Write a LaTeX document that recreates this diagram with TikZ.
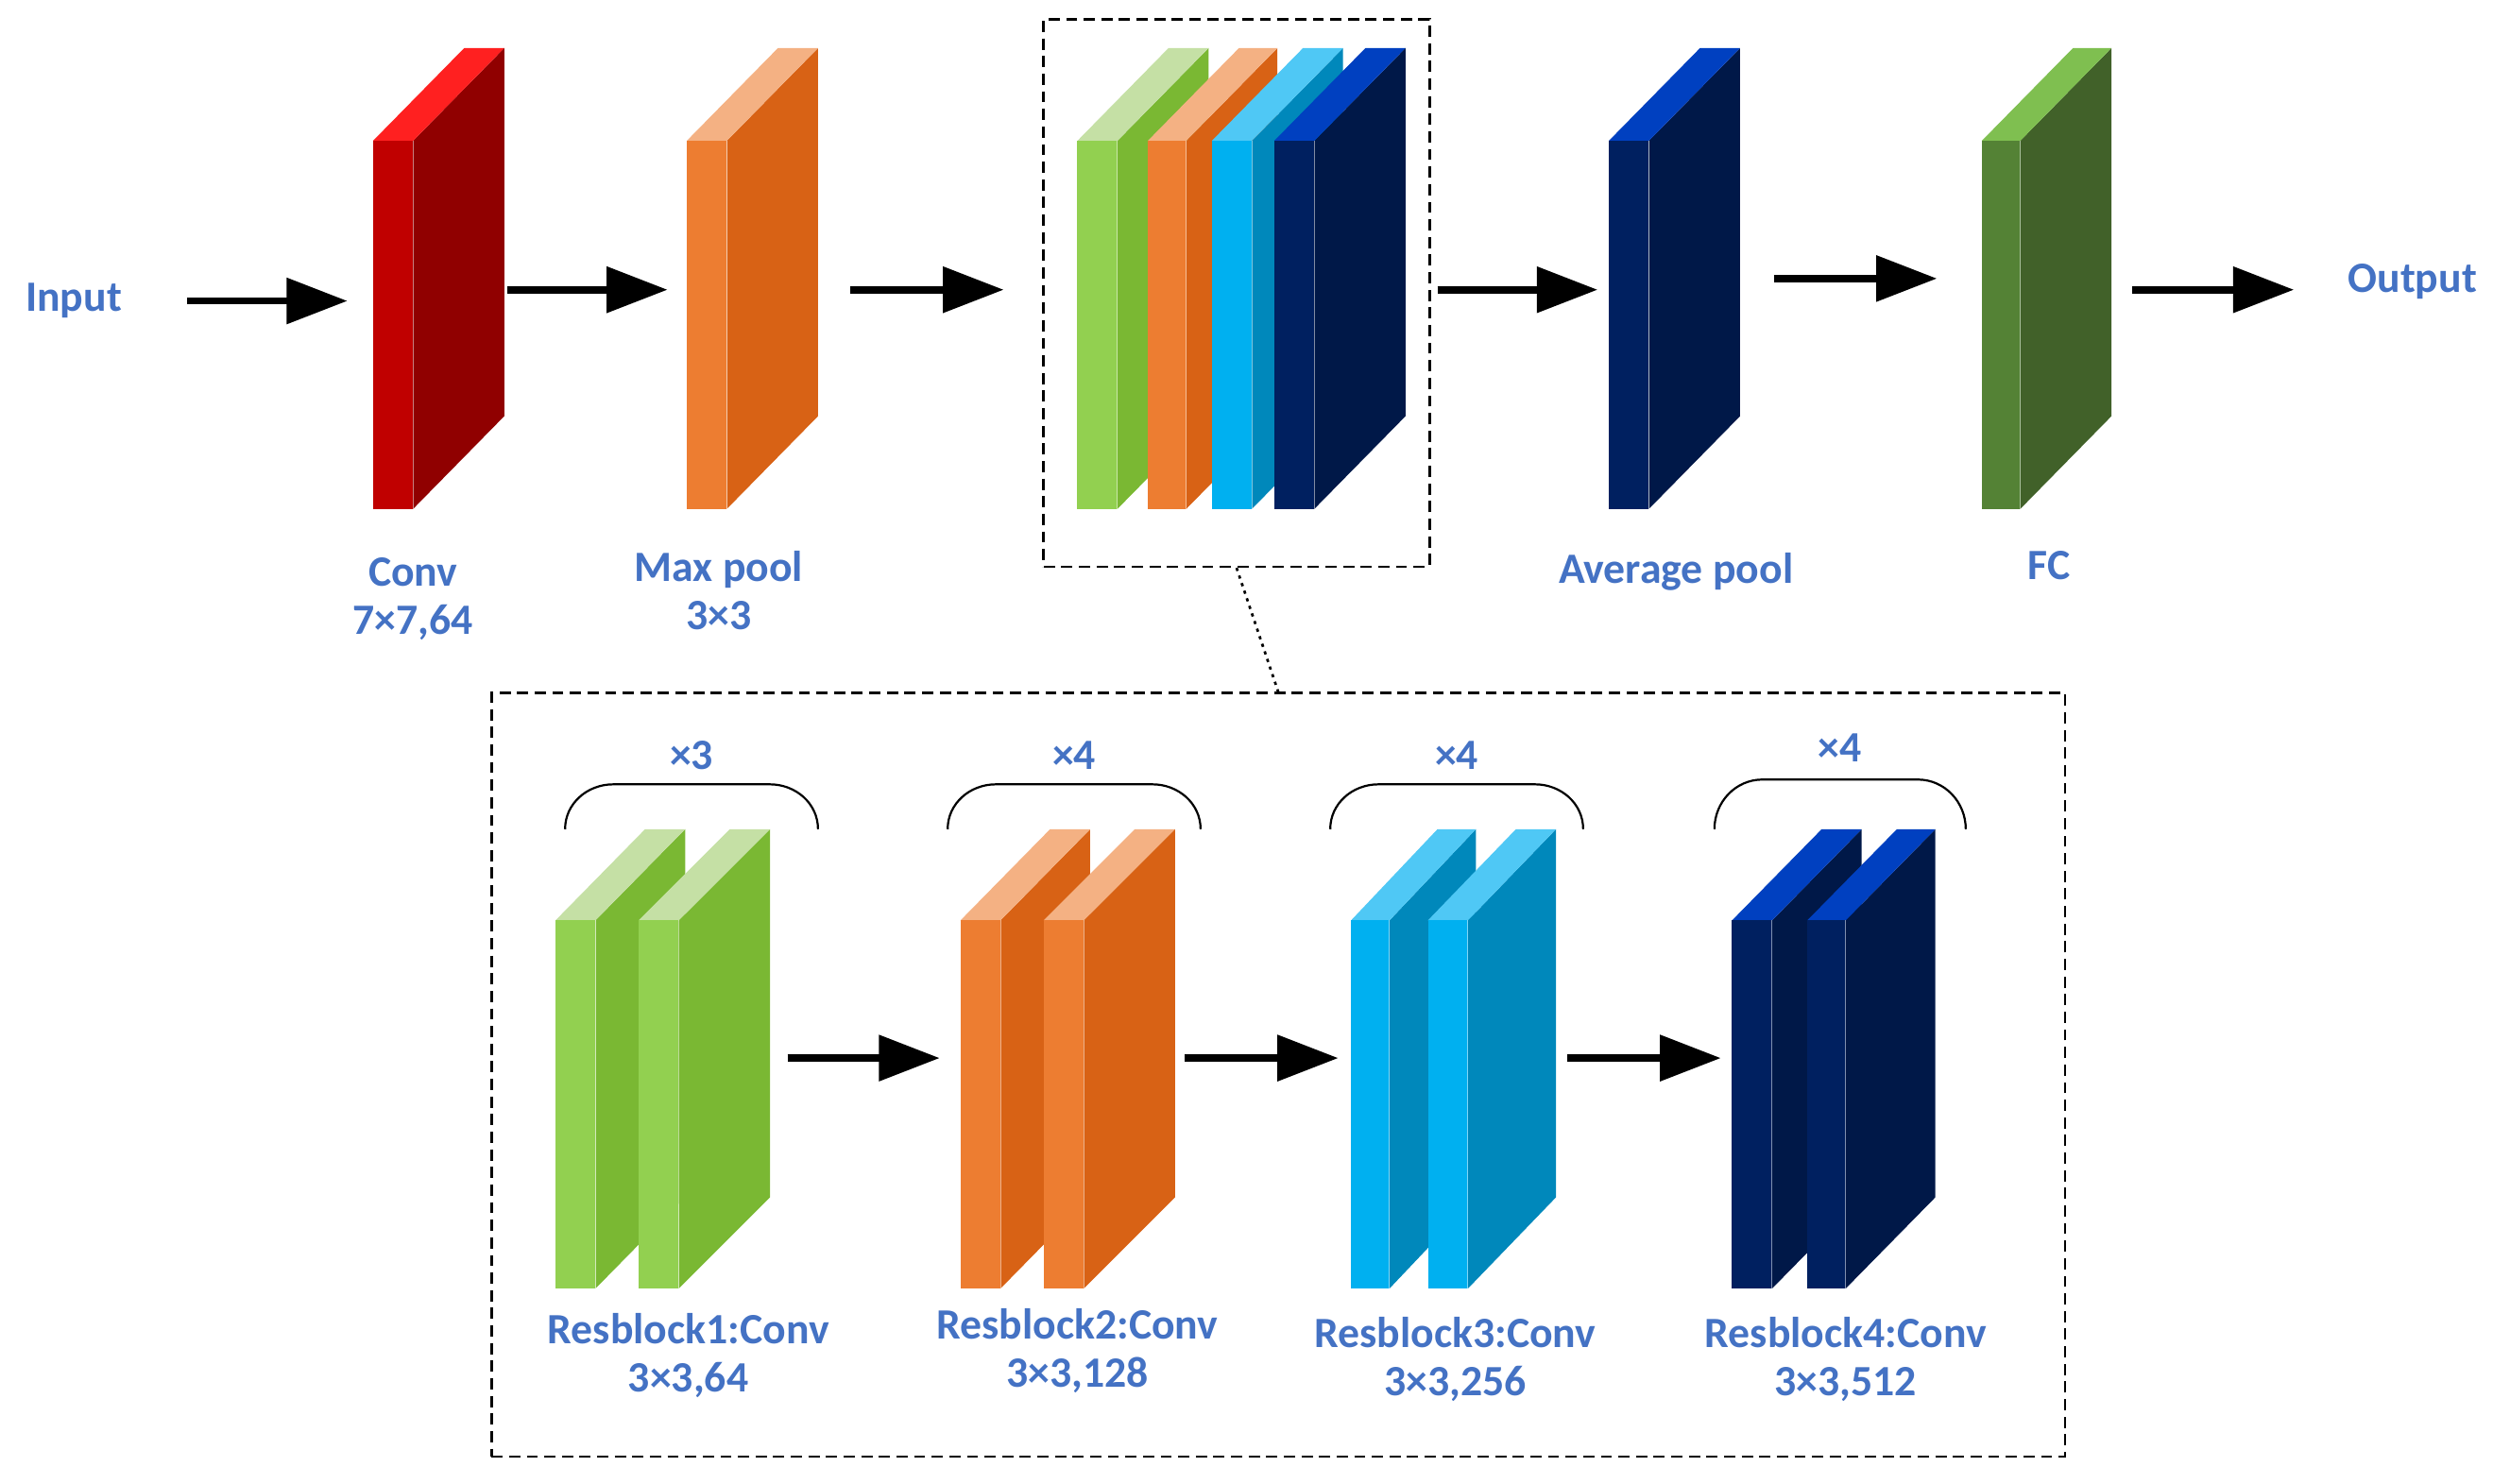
\documentclass[tikz,border=0pt]{standalone}
\usepackage{fontspec}
\setmainfont{Carlito}
\usetikzlibrary{arrows.meta}
\definecolor{lbl}{HTML}{4472C4}
\definecolor{rF}{HTML}{C00000}\definecolor{rS}{HTML}{900000}\definecolor{rT}{HTML}{FF2020}
\definecolor{oF}{HTML}{ED7D31}\definecolor{oS}{HTML}{D86215}\definecolor{oT}{HTML}{F4B183}
\definecolor{gF}{HTML}{92D050}\definecolor{gS}{HTML}{7AB833}\definecolor{gT}{HTML}{C5E0A5}
\definecolor{bF}{HTML}{00B0F0}\definecolor{bS}{HTML}{0088BB}\definecolor{bT}{HTML}{4FC8F5}
\definecolor{nF}{HTML}{002060}\definecolor{nS}{HTML}{001848}\definecolor{nT}{HTML}{0040C0}
\definecolor{fF}{HTML}{548235}\definecolor{fS}{HTML}{416129}\definecolor{fT}{HTML}{7FBF50}
% x, ytop, width, height, dx, dy, colour prefix
\newcommand{\myslab}[7]{%
  \fill[#7S] (#1+#3,#2) -- (#1+#3+#5,#2-#6) -- (#1+#3+#5,#2+#4-#6) -- (#1+#3,#2+#4) -- cycle;
  \fill[#7T] (#1,#2) -- (#1+#5,#2-#6) -- (#1+#3+#5,#2-#6) -- (#1+#3,#2) -- cycle;
  \fill[#7F] (#1,#2) rectangle (#1+#3,#2+#4);
  \draw[white,opacity=0.5,line width=0.6] (#1+#3,#2) -- (#1+#3,#2+#4);}
\begin{document}
\begin{tikzpicture}[x=1pt,y=-1pt,
  lab/.style={text=lbl,font=\fontsize{27}{30}\selectfont\bfseries,align=center},
  arr/.style={line width=4.5pt,-{Triangle[length=38pt,width=28pt]}},
  box/.style={draw,line width=1.6pt,dash pattern=on 7pt off 4pt}]
\useasboundingbox (0,0) rectangle (1568,927);
% top row slabs
\myslab{233}{88}{25}{230}{57}{58}{r}
\myslab{429}{88}{25}{230}{57}{58}{o}
\myslab{673}{88}{25}{230}{57}{58}{g}
\myslab{717}{88}{24}{230}{57}{58}{o}
\myslab{757}{88}{25}{230}{57}{58}{b}
\myslab{796}{88}{25}{230}{57}{58}{n}
\myslab{1005}{88}{25}{230}{57}{58}{n}
\myslab{1238}{88}{24}{230}{57}{58}{f}
% top labels
\node[lab] (in) at (46,188) {Input};
\node[lab] (out) at (1507,176) {Output};
\node[lab] (conv) at (258,374) {Conv\\7×7,64};
\node[lab] (mp) at (449,369) {Max pool\\3×3};
\node[lab] (ap) at (1047,357) {Average pool};
\node[lab] (fc) at (1280,353) {FC};
% top arrows
\coordinate (a1s) at (117,188); \coordinate (a1e) at (217,188);
\coordinate (a2s) at (317,181); \coordinate (a2e) at (417,181);
\coordinate (a3s) at (531,181); \coordinate (a3e) at (627,181);
\coordinate (a4s) at (898,181); \coordinate (a4e) at (998,181);
\coordinate (a5s) at (1108,174); \coordinate (a5e) at (1210,174);
\coordinate (a6s) at (1332,181); \coordinate (a6e) at (1433,181);
\foreach \i in {1,...,6} \draw[arr] (a\i s) -- (a\i e);
% boxes
\node[box,minimum width=241pt,minimum height=342pt] (tb) at (772.5,183) {};
\node[box,minimum width=983pt,minimum height=477pt] (bb) at (798.5,671.5) {};
\draw[line width=1.6pt,dash pattern=on 2pt off 3pt] (tb.south) -- (bb.north);
% bottom slabs
\myslab{347}{575}{25}{230}{56}{57}{g}
\myslab{399}{575}{25}{230}{57}{57}{g}
\myslab{600}{575}{25}{230}{56}{57}{o}
\myslab{652}{575}{25}{230}{57}{57}{o}
\myslab{844}{575}{24}{230}{54}{57}{b}
\myslab{892}{575}{25}{230}{55}{57}{b}
\myslab{1082}{575}{25}{230}{56}{57}{n}
\myslab{1129}{575}{24}{230}{56}{57}{n}
% braces
\foreach \xa/\xb/\yb/\t/\ty in {353/511/490/{×3}/472, 592/750/490/{×4}/472, 831/989/490/{×4}/472, 1071/1228/487/{×4}/467}{
  \draw[line width=1.3pt] (\xa,518) to[out=90,in=180] (\xa+30,\yb) -- (\xb-30,\yb) to[out=0,in=90] (\xb,518);
  \node[lab] at ({(\xa+\xb)/2},\ty) {\t};}
% bottom arrows
\coordinate (b1s) at (492,661); \coordinate (b1e) at (587,661);
\coordinate (b2s) at (740,661); \coordinate (b2e) at (836,661);
\coordinate (b3s) at (979,661); \coordinate (b3e) at (1075,661);
\foreach \i in {1,2,3} \draw[arr] (b\i s) -- (b\i e);
% bottom labels
\node[lab] (r1) at (430,847) {Resblock1:Conv\\3×3,64};
\node[lab] (r2) at (673,844) {Resblock2:Conv\\3×3,128};
\node[lab] (r3) at (909,849) {Resblock3:Conv\\3×3,256};
\node[lab] (r4) at (1153,849) {Resblock4:Conv\\3×3,512};
\end{tikzpicture}
\end{document}
